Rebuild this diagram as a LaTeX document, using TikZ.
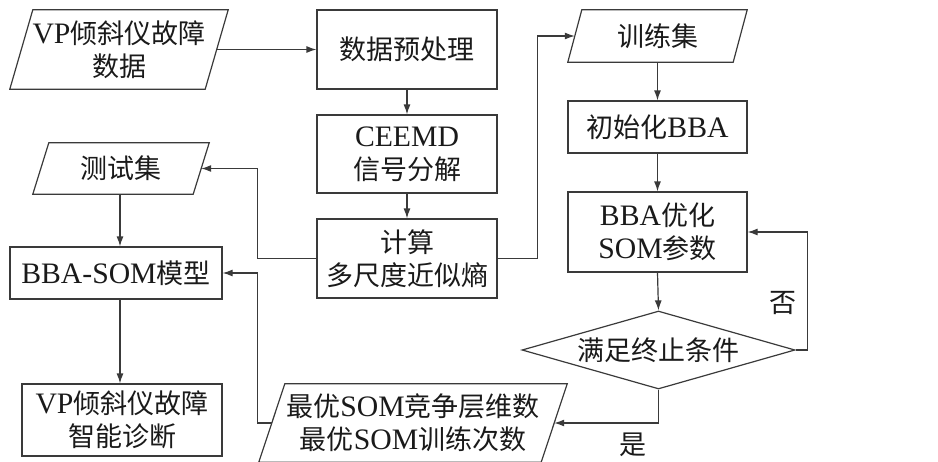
\documentclass[tikz,border=0pt]{standalone}
\usepackage{fontspec}
\setmainfont{Noto Sans CJK SC}
\newfontfamily\lat[Scale=1.1]{Liberation Serif}
\usetikzlibrary{arrows.meta,shapes.geometric}
\definecolor{ln}{HTML}{3A3A3A}
\definecolor{tx}{HTML}{1A1A1A}
\newcommand\paral[2]{\draw[ln,line width=1.2pt] ([xshift=#2]#1.north west) -- (#1.north east) -- ([xshift=-#2]#1.south east) -- (#1.south west) -- cycle;}
\begin{document}
\begin{tikzpicture}[x=1pt,y=-1pt,
  every node/.style={text=tx,font=\fontsize{27}{33}\selectfont,align=center,inner sep=0pt},
  box/.style={draw=ln,line width=1.2pt},
  para/.style={},
  arr/.style={draw=ln,line width=1.2pt,-{Latex[length=10pt,width=7pt]}},
  lin/.style={draw=ln,line width=1.2pt}]
\useasboundingbox (0,0) rectangle (938,461);
\clip (0,0) rectangle (938,461);
\fill[white] (0,0) rectangle (938,461);

% left column
\node[para,minimum width=218,minimum height=79] (vp) at (119,49.5) {{\lat VP}倾斜仪故障\\数据};
\paral{vp}{23}
\node[para,minimum width=176,minimum height=51] (test) at (121,168.5) {测试集};
\paral{test}{16}
\node[box,minimum width=212,minimum height=52] (model) at (116,273) {{\lat BBA-SOM}模型};
\node[box,minimum width=200,minimum height=72] (diag) at (122,420) {{\lat VP}倾斜仪故障\\智能诊断};

% middle column
\node[box,minimum width=180,minimum height=79] (pre) at (407,49.5) {数据预处理};
\node[box,minimum width=180,minimum height=78] (ceemd) at (407,154) {{\lat CEEMD}\\信号分解};
\node[box,minimum width=180,minimum height=79] (calc) at (407,258.5) {计算\\多尺度近似熵};
\node[para,minimum width=308,minimum height=78] (best) at (413,423) {最优{\lat SOM}竞争层维数\\最优{\lat SOM}训练次数};
\paral{best}{26}

% right column
\node[para,minimum width=179,minimum height=52] (train) at (657.5,36) {训练集};
\paral{train}{14}
\node[box,minimum width=179,minimum height=52] (init) at (657.5,127) {初始化{\lat BBA}};
\node[box,minimum width=179,minimum height=80] (opt) at (657.5,232) {{\lat BBA}优化\\{\lat SOM}参数};
\node[diamond,draw=ln,line width=1.2pt,aspect=3.5,minimum width=273,minimum height=78] (cond) at (658.5,350) {满足终止条件};

\node (no) at (783,303) {否};
\node (yes) at (633,445) {是};

% connectors
\draw[arr] ([xshift=-11.5]vp.east) -- (pre.west);
\draw[arr] (pre.south) -- (ceemd.north);
\draw[arr] (ceemd.south) -- (calc.north);
\draw[arr] (calc.west) -- ++(-59,0) |- ([xshift=-8]test.east);
\draw[arr] (calc.east) -- ++(40,0) |- ([xshift=7]train.west);
\draw[arr] ([xshift=-1]test.south) -- ([xshift=-1]test.south |- model.north);
\draw[arr] ([xshift=-1]model.south -| test.south) -- ([xshift=-1]test.south |- diag.north);
\draw[arr] (train.south) -- (init.north);
\draw[arr] (init.south) -- (opt.north);
\draw[arr] (opt.south) -- (cond.north);
\draw[arr] (cond.east) -- ++(12,0) |- (opt.east);
\draw[arr] (cond.south) |- ([xshift=-13]best.east);
\draw[arr] ([xshift=13]best.west) -- ++(-14,0) |- (model.east);
\end{tikzpicture}
\end{document}
